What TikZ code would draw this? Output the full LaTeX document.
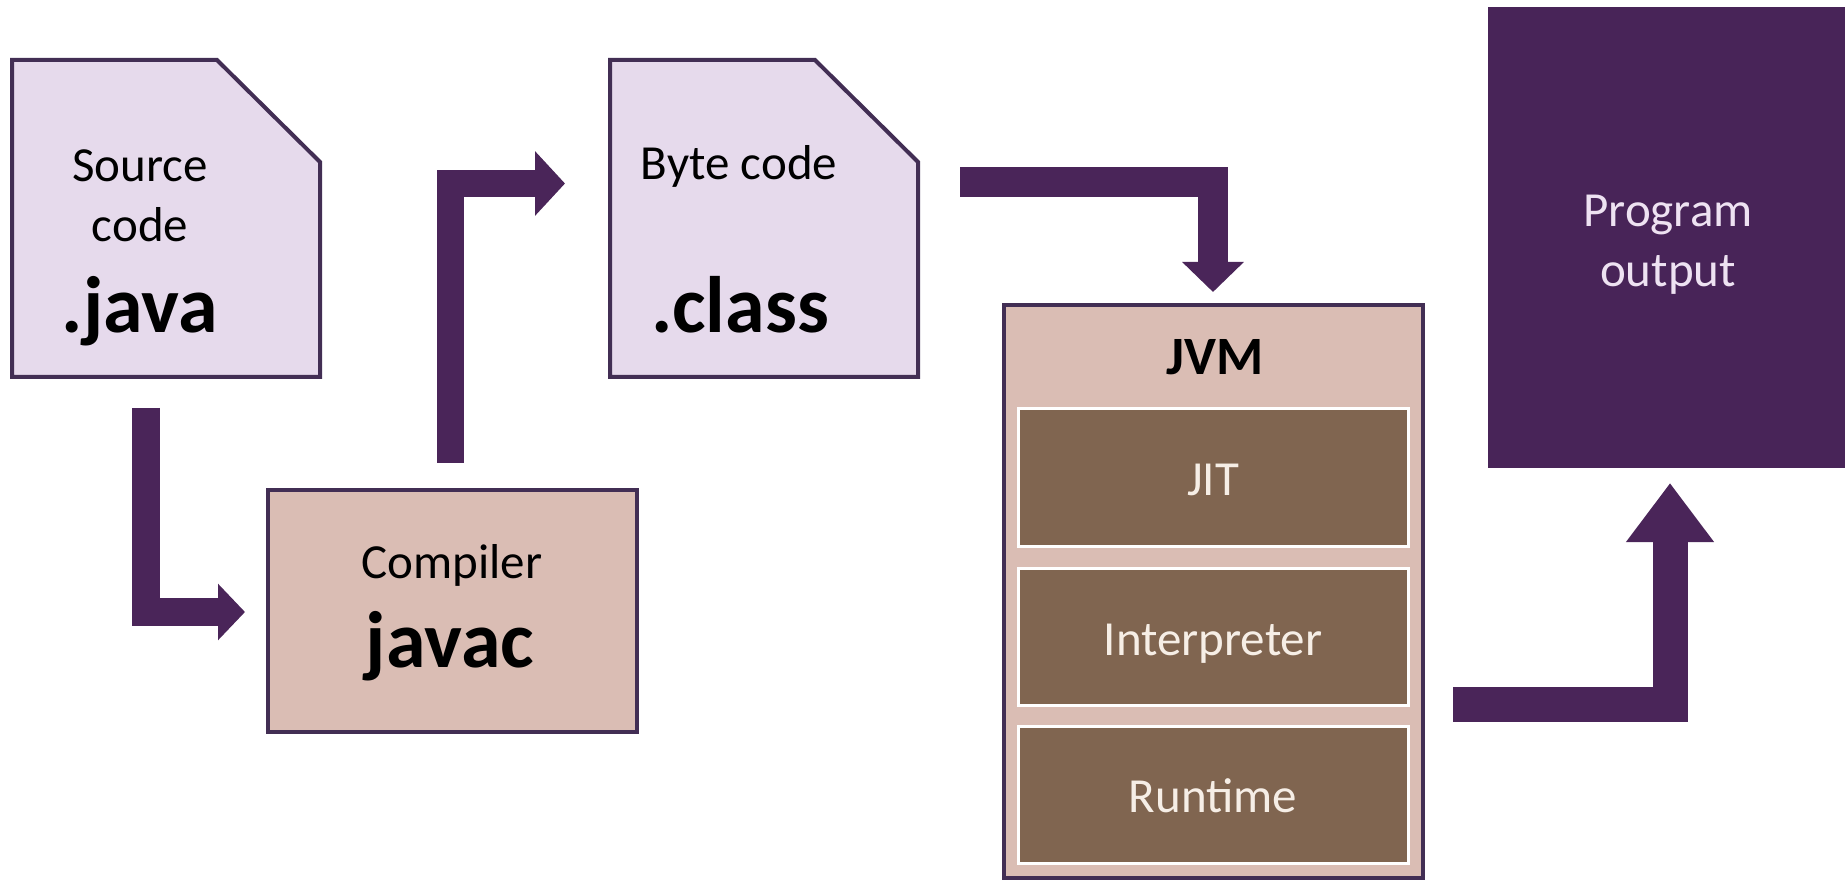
\documentclass[tikz,border=0pt]{standalone}
\usepackage{fontspec}
\setmainfont{Carlito}
\usetikzlibrary{arrows.meta,calc}
\definecolor{arrowpurple}{RGB}{74,37,89}
\definecolor{outpurple}{RGB}{72,36,88}
\definecolor{edgepurple}{RGB}{66,46,84}
\definecolor{lavender}{RGB}{230,218,236}
\definecolor{rosetan}{RGB}{218,189,180}
\definecolor{brownbox}{RGB}{128,101,80}
\definecolor{creamtext}{RGB}{246,238,230}
\definecolor{lilactext}{RGB}{238,226,242}
\begin{document}
\begin{tikzpicture}[x=0.5pt,y=-0.5pt,
  docarea/.style={rectangle,inner sep=0pt,outer sep=0pt,minimum width=154pt,minimum height=158.5pt},
  docshape/.style={draw=edgepurple,fill=lavender,line width=2pt,line join=miter},
  plainbox/.style={rectangle,draw=edgepurple,fill=rosetan,line width=2pt,inner sep=0pt,outer sep=0pt},
  layerbox/.style={rectangle,draw=white,fill=brownbox,line width=1.5pt,inner sep=0pt,minimum width=195pt,minimum height=68.5pt},
  regtext/.style={anchor=base,inner sep=0pt,font=\fontsize{24.5}{29}\selectfont},
  boldtext/.style={anchor=base,inner sep=0pt,font=\fontsize{40}{48}\selectfont\bfseries},
  layertext/.style={regtext,text=creamtext},
  outtext/.style={regtext,text=lilactext},
  flow/.style={draw=arrowpurple,line join=miter,line cap=butt},
]
\useasboundingbox (0,0) rectangle (1845,881);

% Source code document
\node[docarea] (src) at (166,218.5) {};
\draw[docshape] (src.north west) -- ($(src.north east)+(-103,0)$) -- ($(src.north east)+(0,102)$) -- (src.south east) -- (src.south west) -- cycle;
\node[regtext] (srcA) at (140,182) {Source};
\node[regtext] (srcB) at (140,242) {code};
\node[boldtext] (srcC) at (140,333) {.java};

% Byte code document
\node[docarea] (byte) at (764,218.5) {};
\draw[docshape] (byte.north west) -- ($(byte.north east)+(-103,0)$) -- ($(byte.north east)+(0,102)$) -- (byte.south east) -- (byte.south west) -- cycle;
\node[regtext] (byteA) at (739,180) {Byte code};
\node[boldtext] (byteB) at (740,333) {.class};

% Compiler
\node[plainbox,minimum width=184.5pt,minimum height=121pt] (comp) at (452.5,611) {};
\node[regtext] (compA) at (452,578) {Compiler};
\node[boldtext] (compB) at (450,667) {javac};

% JVM
\node[plainbox,minimum width=209.5pt,minimum height=286.5pt] (jvm) at (1213.5,591.5) {};
\node[anchor=base,inner sep=0pt,font=\fontsize{27}{32}\selectfont\bfseries] (jvmA) at (1215,375) {JVM};
\node[layerbox] (jit) at (1213,477.5) {};
\node[layertext] (jitA) at (1213,495) {JIT};
\node[layerbox] (interp) at (1213,636.5) {};
\node[layertext] (interpA) at (1213,655) {Interpreter};
\node[layerbox] (runt) at (1213,795) {};
\node[layertext] (runtA) at (1213,812) {Runtime};

% Program output
\node[rectangle,fill=outpurple,inner sep=0pt,outer sep=0pt,minimum width=178.5pt,minimum height=230.5pt] (out) at (1666.5,237.5) {};
\node[outtext] (outA) at (1668,227) {Program};
\node[outtext] (outB) at (1668,287) {output};

% Connectors
\draw[flow,line width=14pt,-{Triangle[width=27.5pt 0 1,length=13.5pt 0 1]}]
  ($(src.south west)+(134,31)$) |- ($(comp.west)+(-23,1)$);
\draw[flow,line width=13.5pt,-{Triangle[width=31.5pt 0 1,length=15pt 0 1]}]
  ($(comp.north)+(-2.5,-27)$) |- ($(byte.north west)+(-45,123.5)$);
\draw[flow,line width=15pt,-{Triangle[width=30pt 0 1,length=15pt 0 1]}]
  ($(byte.north east)+(42,122)$) -| ($(jvm.north)+(-0.5,-13)$);
\draw[flow,line width=17.5pt,-{Triangle[width=42pt 0 1,length=29.5pt 0 1]}]
  ($(jvm.east)+(30,113)$) -| ($(out.south)+(3.5,15)$);
\end{tikzpicture}
\end{document}
